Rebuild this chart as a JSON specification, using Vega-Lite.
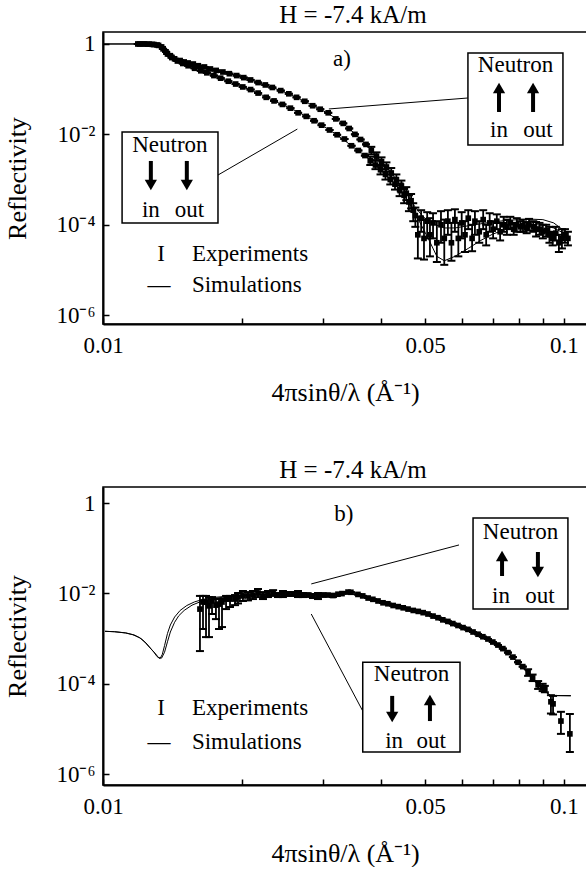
{
  "$schema": "https://vega.github.io/schema/vega-lite/v6.json",
  "padding": {"left": 4, "top": 2, "right": 0, "bottom": 0},
  "spacing": 51,
  "config": {
    "font": "Liberation Serif",
    "view": {"stroke": "black", "strokeWidth": 1.5},
    "axis": {"grid": false, "domainColor": "black", "domainWidth": 2, "tickColor": "black", "tickWidth": 1.5, "tickSize": -6, "labelColor": "black", "labelFont": "Liberation Serif", "labelFontSize": 23, "titleFont": "Liberation Serif", "titleFontSize": 26, "titleFontWeight": "normal", "titleColor": "black"},
    "title": {"font": "Liberation Serif", "fontSize": 25, "fontWeight": "normal", "color": "black"}
  },
  "datasets": {
    "a_exp": [
      {"q":0.0119,"R":1.0,"lo":1.0,"hi":1.0},{"q":0.0122,"R":1.0,"lo":1.0,"hi":1.0},{"q":0.0125,"R":0.99,"lo":0.99,"hi":0.99},{"q":0.0128,"R":0.98,"lo":0.98,"hi":0.98},{"q":0.0131,"R":0.95,"lo":0.95,"hi":0.95},{"q":0.0134,"R":0.86,"lo":0.86,"hi":0.86},{"q":0.0137,"R":0.67,"lo":0.67,"hi":0.67},{"q":0.014,"R":0.55,"lo":0.55,"hi":0.55},{"q":0.0143,"R":0.47,"lo":0.47,"hi":0.47},{"q":0.0147,"R":0.43,"lo":0.43,"hi":0.43},{"q":0.015,"R":0.4,"lo":0.4,"hi":0.4},{"q":0.0153,"R":0.38,"lo":0.38,"hi":0.38},{"q":0.0157,"R":0.36,"lo":0.36,"hi":0.36},{"q":0.0161,"R":0.33,"lo":0.33,"hi":0.33},{"q":0.0166,"R":0.31,"lo":0.31,"hi":0.31},{"q":0.0171,"R":0.28,"lo":0.28,"hi":0.28},{"q":0.0176,"R":0.26,"lo":0.26,"hi":0.26},{"q":0.0182,"R":0.24,"lo":0.24,"hi":0.24},{"q":0.0188,"R":0.22,"lo":0.22,"hi":0.22},{"q":0.0195,"R":0.2,"lo":0.2,"hi":0.2},{"q":0.0202,"R":0.18,"lo":0.18,"hi":0.18},{"q":0.0209,"R":0.16,"lo":0.16,"hi":0.16},{"q":0.0217,"R":0.14,"lo":0.14,"hi":0.14},{"q":0.0225,"R":0.124,"lo":0.124,"hi":0.124},{"q":0.0233,"R":0.109,"lo":0.109,"hi":0.109},{"q":0.0243,"R":0.093,"lo":0.093,"hi":0.093},{"q":0.0253,"R":0.079,"lo":0.079,"hi":0.079},{"q":0.0263,"R":0.066,"lo":0.066,"hi":0.066},{"q":0.0274,"R":0.054,"lo":0.054,"hi":0.054},{"q":0.0285,"R":0.043,"lo":0.043,"hi":0.043},{"q":0.0296,"R":0.036,"lo":0.036,"hi":0.036},{"q":0.0308,"R":0.03,"lo":0.03,"hi":0.03},{"q":0.032,"R":0.022,"lo":0.022,"hi":0.022},{"q":0.0332,"R":0.0175,"lo":0.0175,"hi":0.0175},{"q":0.0342,"R":0.0135,"lo":0.0135,"hi":0.0135},{"q":0.0352,"R":0.01,"lo":0.01,"hi":0.01},{"q":0.0362,"R":0.0077,"lo":0.0077,"hi":0.0077},{"q":0.0372,"R":0.006,"lo":0.006,"hi":0.006},{"q":0.0382,"R":0.0044,"lo":0.0036,"hi":0.0053},{"q":0.0392,"R":0.0033,"lo":0.0027,"hi":0.004},{"q":0.0402,"R":0.0025,"lo":0.002,"hi":0.0031},{"q":0.0412,"R":0.0019,"lo":0.0015,"hi":0.0024},{"q":0.0422,"R":0.0014,"lo":0.0011,"hi":0.0018},{"q":0.0433,"R":0.001,"lo":0.00075,"hi":0.0013},{"q":0.0444,"R":0.00072,"lo":0.00052,"hi":0.00095},{"q":0.0455,"R":0.0005,"lo":0.00035,"hi":0.00068},{"q":0.0466,"R":0.00034,"lo":0.00023,"hi":0.00048},
      {"q":0.0476,"R":1.6e-4,"lo":9e-5,"hi":2.4e-4},{"q":0.049,"R":1.4e-4,"lo":7e-5,"hi":2.1e-4},{"q":0.0505,"R":1.2e-4,"lo":5e-5,"hi":1.9e-4},{"q":0.052,"R":1.1e-4,"lo":5e-5,"hi":1.8e-4},{"q":0.0541,"R":1.0e-4,"lo":4e-5,"hi":2.0e-4},{"q":0.056,"R":1.2e-4,"lo":6e-5,"hi":2.1e-4},{"q":0.058,"R":1.3e-4,"lo":7e-5,"hi":2.2e-4},{"q":0.06,"R":1.1e-4,"lo":5e-5,"hi":1.9e-4},{"q":0.062,"R":1.4e-4,"lo":8e-5,"hi":2.1e-4},{"q":0.0641,"R":1.2e-4,"lo":6e-5,"hi":2.0e-4},{"q":0.0668,"R":1.3e-4,"lo":8e-5,"hi":2.1e-4},{"q":0.069,"R":1.1e-4,"lo":7e-5,"hi":1.8e-4},{"q":0.0715,"R":1.2e-4,"lo":8e-5,"hi":1.7e-4},{"q":0.074,"R":1.0e-4,"lo":7e-5,"hi":1.5e-4},{"q":0.0765,"R":1.1e-4,"lo":8e-5,"hi":1.5e-4},{"q":0.079,"R":1.0e-4,"lo":7e-5,"hi":1.4e-4},{"q":0.0815,"R":9.5e-5,"lo":7e-5,"hi":1.3e-4},{"q":0.084,"R":1.0e-4,"lo":7.5e-5,"hi":1.35e-4},{"q":0.087,"R":8e-5,"lo":5.5e-5,"hi":1.15e-4},{"q":0.09,"R":7e-5,"lo":5e-5,"hi":1.0e-4},{"q":0.093,"R":6e-5,"lo":4e-5,"hi":9e-5},{"q":0.096,"R":6.5e-5,"lo":4.5e-5,"hi":9e-5},{"q":0.099,"R":5e-5,"lo":3e-5,"hi":8e-5},{"q":0.102,"R":5e-5,"lo":3.5e-5,"hi":7e-5},
      {"q":0.012,"R":1.0,"lo":1.0,"hi":1.0},{"q":0.0123,"R":1.0,"lo":1.0,"hi":1.0},{"q":0.0126,"R":0.99,"lo":0.99,"hi":0.99},{"q":0.0129,"R":0.97,"lo":0.97,"hi":0.97},{"q":0.0132,"R":0.93,"lo":0.93,"hi":0.93},{"q":0.0135,"R":0.78,"lo":0.78,"hi":0.78},{"q":0.0138,"R":0.6,"lo":0.6,"hi":0.6},{"q":0.0141,"R":0.5,"lo":0.5,"hi":0.5},{"q":0.0145,"R":0.42,"lo":0.42,"hi":0.42},{"q":0.0149,"R":0.37,"lo":0.37,"hi":0.37},{"q":0.0153,"R":0.33,"lo":0.33,"hi":0.33},{"q":0.0158,"R":0.29,"lo":0.29,"hi":0.29},{"q":0.0163,"R":0.255,"lo":0.255,"hi":0.255},{"q":0.0168,"R":0.23,"lo":0.23,"hi":0.23},{"q":0.0174,"R":0.2,"lo":0.2,"hi":0.2},{"q":0.018,"R":0.175,"lo":0.175,"hi":0.175},{"q":0.0187,"R":0.15,"lo":0.15,"hi":0.15},{"q":0.0194,"R":0.13,"lo":0.13,"hi":0.13},{"q":0.0201,"R":0.112,"lo":0.112,"hi":0.112},{"q":0.0209,"R":0.098,"lo":0.098,"hi":0.098},{"q":0.0217,"R":0.082,"lo":0.082,"hi":0.082},{"q":0.0226,"R":0.066,"lo":0.066,"hi":0.066},{"q":0.0235,"R":0.055,"lo":0.055,"hi":0.055},{"q":0.0245,"R":0.046,"lo":0.046,"hi":0.046},{"q":0.0255,"R":0.038,"lo":0.038,"hi":0.038},{"q":0.0265,"R":0.03,"lo":0.03,"hi":0.03},{"q":0.0276,"R":0.025,"lo":0.025,"hi":0.025},{"q":0.0287,"R":0.02,"lo":0.02,"hi":0.02},{"q":0.0298,"R":0.016,"lo":0.016,"hi":0.016},{"q":0.031,"R":0.0125,"lo":0.0125,"hi":0.0125},{"q":0.0322,"R":0.0098,"lo":0.0098,"hi":0.0098},{"q":0.0334,"R":0.0079,"lo":0.0079,"hi":0.0079},{"q":0.0346,"R":0.0056,"lo":0.0056,"hi":0.0056},{"q":0.0358,"R":0.0044,"lo":0.0044,"hi":0.0044},{"q":0.037,"R":0.0034,"lo":0.0034,"hi":0.0034},{"q":0.038,"R":0.0026,"lo":0.0021,"hi":0.0032},{"q":0.039,"R":0.0021,"lo":0.0017,"hi":0.0026},{"q":0.04,"R":0.00165,"lo":0.0013,"hi":0.0021},{"q":0.041,"R":0.0013,"lo":0.001,"hi":0.0017},{"q":0.042,"R":0.001,"lo":0.00078,"hi":0.0013},{"q":0.043,"R":0.00079,"lo":0.0006,"hi":0.00105},{"q":0.044,"R":0.0006,"lo":0.00043,"hi":0.00082},{"q":0.045,"R":0.00045,"lo":0.0003,"hi":0.00062},{"q":0.0461,"R":0.00032,"lo":0.0002,"hi":0.00045},{"q":0.0471,"R":0.00021,"lo":0.00012,"hi":0.0003},
      {"q":0.0482,"R":6e-5,"lo":1.8e-5,"hi":1.5e-4},{"q":0.0497,"R":5e-5,"lo":1.7e-5,"hi":1.3e-4},{"q":0.0512,"R":6e-5,"lo":2e-5,"hi":1.4e-4},{"q":0.053,"R":4e-5,"lo":1.5e-5,"hi":1.2e-4},{"q":0.055,"R":5e-5,"lo":1.3e-5,"hi":1.3e-4},{"q":0.057,"R":4e-5,"lo":1.6e-5,"hi":1.1e-4},{"q":0.059,"R":5e-5,"lo":2e-5,"hi":1.1e-4},{"q":0.061,"R":6e-5,"lo":2.5e-5,"hi":1.2e-4},{"q":0.0632,"R":5e-5,"lo":2.6e-5,"hi":1.0e-4},{"q":0.0655,"R":7e-5,"lo":4e-5,"hi":1.2e-4},{"q":0.0678,"R":6e-5,"lo":3.5e-5,"hi":1.0e-4},{"q":0.0702,"R":8e-5,"lo":5e-5,"hi":1.2e-4},{"q":0.0727,"R":7e-5,"lo":4.5e-5,"hi":1.1e-4},{"q":0.0752,"R":9e-5,"lo":6e-5,"hi":1.3e-4},{"q":0.0778,"R":8e-5,"lo":6e-5,"hi":1.1e-4},{"q":0.0805,"R":9e-5,"lo":7e-5,"hi":1.2e-4},{"q":0.083,"R":8.5e-5,"lo":6.5e-5,"hi":1.15e-4},{"q":0.0858,"R":9e-5,"lo":7e-5,"hi":1.2e-4},{"q":0.0885,"R":8e-5,"lo":6e-5,"hi":1.1e-4},{"q":0.0915,"R":7.5e-5,"lo":5.5e-5,"hi":1.0e-4},{"q":0.0945,"R":5e-5,"lo":3.5e-5,"hi":7e-5},{"q":0.0975,"R":4e-5,"lo":2.5e-5,"hi":6e-5},{"q":0.1005,"R":6e-5,"lo":4e-5,"hi":8e-5}
    ],
    "a_sim": [
      {"s":"pp","q":0.01,"R":1.0},{"s":"pp","q":0.0125,"R":1.0},{"s":"pp","q":0.0131,"R":0.97},{"s":"pp","q":0.0134,"R":0.88},{"s":"pp","q":0.0137,"R":0.68},{"s":"pp","q":0.014,"R":0.56},{"s":"pp","q":0.0145,"R":0.46},{"s":"pp","q":0.0153,"R":0.39},{"s":"pp","q":0.0165,"R":0.315},{"s":"pp","q":0.018,"R":0.25},{"s":"pp","q":0.0195,"R":0.2},{"s":"pp","q":0.021,"R":0.158},{"s":"pp","q":0.0225,"R":0.124},{"s":"pp","q":0.0243,"R":0.093},{"s":"pp","q":0.0263,"R":0.066},{"s":"pp","q":0.0285,"R":0.044},{"s":"pp","q":0.0308,"R":0.029},{"s":"pp","q":0.0332,"R":0.0175},{"s":"pp","q":0.0352,"R":0.0103},{"s":"pp","q":0.0372,"R":0.006},{"s":"pp","q":0.0392,"R":0.0033},{"s":"pp","q":0.0412,"R":0.0019},{"s":"pp","q":0.0433,"R":0.001},{"s":"pp","q":0.0455,"R":0.0005},{"s":"pp","q":0.0475,"R":0.00025},{"s":"pp","q":0.0495,"R":1.5e-4},{"s":"pp","q":0.052,"R":1.05e-4},{"s":"pp","q":0.055,"R":8.5e-5},{"s":"pp","q":0.058,"R":8.5e-5},{"s":"pp","q":0.062,"R":9.5e-5},{"s":"pp","q":0.066,"R":1.05e-4},{"s":"pp","q":0.07,"R":1.15e-4},{"s":"pp","q":0.075,"R":1.25e-4},{"s":"pp","q":0.08,"R":1.3e-4},{"s":"pp","q":0.085,"R":1.33e-4},{"s":"pp","q":0.09,"R":1.3e-4},{"s":"pp","q":0.095,"R":1.1e-4},{"s":"pp","q":0.099,"R":8e-5},{"s":"pp","q":0.1015,"R":6e-5},{"s":"pp","q":0.103,"R":5e-5},
      {"s":"mm","q":0.01,"R":1.0},{"s":"mm","q":0.0126,"R":1.0},{"s":"mm","q":0.013,"R":0.97},{"s":"mm","q":0.0133,"R":0.87},{"s":"mm","q":0.0136,"R":0.68},{"s":"mm","q":0.0139,"R":0.55},{"s":"mm","q":0.0143,"R":0.45},{"s":"mm","q":0.015,"R":0.37},{"s":"mm","q":0.016,"R":0.29},{"s":"mm","q":0.0172,"R":0.21},{"s":"mm","q":0.0187,"R":0.15},{"s":"mm","q":0.0201,"R":0.112},{"s":"mm","q":0.0217,"R":0.082},{"s":"mm","q":0.0235,"R":0.055},{"s":"mm","q":0.0255,"R":0.038},{"s":"mm","q":0.0276,"R":0.025},{"s":"mm","q":0.0298,"R":0.016},{"s":"mm","q":0.0322,"R":0.0098},{"s":"mm","q":0.0346,"R":0.0056},{"s":"mm","q":0.037,"R":0.0034},{"s":"mm","q":0.039,"R":0.0021},{"s":"mm","q":0.041,"R":0.0013},{"s":"mm","q":0.043,"R":0.0008},{"s":"mm","q":0.045,"R":0.00045},{"s":"mm","q":0.047,"R":0.00022},{"s":"mm","q":0.049,"R":1.0e-4},{"s":"mm","q":0.051,"R":4.5e-5},{"s":"mm","q":0.053,"R":2.0e-5},{"s":"mm","q":0.055,"R":1.6e-5},{"s":"mm","q":0.058,"R":2.0e-5},{"s":"mm","q":0.062,"R":3.0e-5},{"s":"mm","q":0.066,"R":4.5e-5},{"s":"mm","q":0.07,"R":6.2e-5},{"s":"mm","q":0.075,"R":8.0e-5},{"s":"mm","q":0.08,"R":9.5e-5},{"s":"mm","q":0.085,"R":1.02e-4},{"s":"mm","q":0.09,"R":9.8e-5},{"s":"mm","q":0.095,"R":8.5e-5},{"s":"mm","q":0.1,"R":6.5e-5},{"s":"mm","q":0.103,"R":5.3e-5}
    ],
    "a_box": [{"q":0.0619,"q2":0.0995,"R":0.632,"R2":0.0058},{"q":0.011,"q2":0.01776,"R":0.0113,"R2":0.00011}],
    "a_lead": [{"q":0.0309,"R":0.0365,"q2":0.0619,"R2":0.0638},{"q":0.01776,"R":0.00126,"q2":0.0264,"R2":0.0131}],
    "a_arrow": [
      {"q":0.0723,"R":0.0313,"R2":0.096,"Rt":0.106,"dir":"up"},
      {"q":0.0857,"R":0.0313,"R2":0.096,"Rt":0.106,"dir":"up"},
      {"q":0.0127,"R":0.00258,"R2":0.000885,"Rt":0.00076,"dir":"down"},
      {"q":0.0152,"R":0.00258,"R2":0.000885,"Rt":0.00076,"dir":"down"}
    ],
    "a_txt": [
      {"q":0.0785,"R":0.343,"t":"Neutron"},{"q":0.0723,"R":0.0125,"t":"in"},{"q":0.0878,"R":0.0125,"t":"out"},
      {"q":0.01397,"R":0.0058,"t":"Neutron"},{"q":0.0127,"R":0.000212,"t":"in"},{"q":0.0154,"R":0.000212,"t":"out"},
      {"q":0.033,"R":0.466,"t":"a)"},{"q":0.01336,"R":2.26e-5,"t":"I"},{"q":0.01323,"R":4.6e-6,"t":"—"}
    ],
    "a_leg": [{"q":0.01559,"R":2.26e-5,"t":"Experiments"},{"q":0.01559,"R":4.6e-6,"t":"Simulations"}],
    "b_exp": [
      {"q":0.01623,"R":0.0045,"lo":0.00053,"hi":0.0088},{"q":0.01673,"R":0.00645,"lo":0.00108,"hi":0.0088},{"q":0.01724,"R":0.0068,"lo":0.0035,"hi":0.0083},{"q":0.01785,"R":0.0058,"lo":0.00163,"hi":0.0075},{"q":0.01849,"R":0.0075,"lo":0.0045,"hi":0.0088},{"q":0.01934,"R":0.0075,"lo":0.0055,"hi":0.0092},{"q":0.02012,"R":0.0088,"lo":0.0068,"hi":0.0113},{"q":0.02115,"R":0.0092,"lo":0.0075,"hi":0.0113},{"q":0.02224,"R":0.0088,"lo":0.0075,"hi":0.0107},{"q":0.02339,"R":0.0102,"lo":0.0088,"hi":0.0118},{"q":0.02457,"R":0.0097,"lo":0.0083,"hi":0.0113},{"q":0.02584,"R":0.0097,"lo":0.0088,"hi":0.0107},{"q":0.02715,"R":0.0092,"lo":0.0083,"hi":0.0102},{"q":0.02855,"R":0.0088,"lo":0.0079,"hi":0.0097},{"q":0.03,"R":0.0092,"lo":0.0085,"hi":0.01},{"q":0.03154,"R":0.009,"lo":0.0083,"hi":0.0097},{"q":0.033,"R":0.0099,"lo":0.0099,"hi":0.0099},{"q":0.0345,"R":0.0106,"lo":0.0106,"hi":0.0106},{"q":0.0366,"R":0.0088,"lo":0.0088,"hi":0.0088},{"q":0.0385,"R":0.0074,"lo":0.0074,"hi":0.0074},{"q":0.0405,"R":0.0062,"lo":0.0062,"hi":0.0062},{"q":0.0426,"R":0.0054,"lo":0.0054,"hi":0.0054},{"q":0.0448,"R":0.0048,"lo":0.0048,"hi":0.0048},{"q":0.0471,"R":0.0042,"lo":0.0042,"hi":0.0042},{"q":0.0495,"R":0.00375,"lo":0.00375,"hi":0.00375},{"q":0.052,"R":0.00315,"lo":0.00315,"hi":0.00315},{"q":0.0546,"R":0.0026,"lo":0.0026,"hi":0.0026},{"q":0.0574,"R":0.00215,"lo":0.00215,"hi":0.00215},{"q":0.0604,"R":0.00175,"lo":0.00175,"hi":0.00175},{"q":0.0635,"R":0.0014,"lo":0.0014,"hi":0.0014},{"q":0.0667,"R":0.0011,"lo":0.0011,"hi":0.0011},{"q":0.0701,"R":0.00084,"lo":0.00084,"hi":0.00084},{"q":0.0737,"R":0.0006,"lo":0.0006,"hi":0.0006},{"q":0.0775,"R":0.00039,"lo":0.00039,"hi":0.00039},{"q":0.0814,"R":0.00024,"lo":0.00024,"hi":0.00024},{"q":0.0855,"R":0.000135,"lo":0.000115,"hi":0.00016},{"q":0.0899,"R":8.3e-5,"lo":6.9e-5,"hi":1.0e-4},{"q":0.0947,"R":3.6e-5,"lo":2.1e-5,"hi":5.4e-5},{"q":0.103,"R":7.8e-6,"lo":3.1e-6,"hi":2.15e-5},
      {"q":0.01648,"R":0.00645,"lo":0.00163,"hi":0.0088},{"q":0.01698,"R":0.0053,"lo":0.00108,"hi":0.0083},{"q":0.01758,"R":0.0055,"lo":0.0027,"hi":0.0075},{"q":0.01812,"R":0.00645,"lo":0.0018,"hi":0.0075},{"q":0.01886,"R":0.0075,"lo":0.005,"hi":0.0088},{"q":0.01963,"R":0.0083,"lo":0.006,"hi":0.0102},{"q":0.02063,"R":0.0088,"lo":0.007,"hi":0.0107},{"q":0.02169,"R":0.0102,"lo":0.0083,"hi":0.0125},{"q":0.0228,"R":0.0097,"lo":0.0083,"hi":0.0113},{"q":0.02397,"R":0.0092,"lo":0.0083,"hi":0.0102},{"q":0.02519,"R":0.0097,"lo":0.0088,"hi":0.0107},{"q":0.02649,"R":0.0097,"lo":0.0083,"hi":0.0113},{"q":0.02784,"R":0.0092,"lo":0.0085,"hi":0.01},{"q":0.02927,"R":0.0086,"lo":0.0075,"hi":0.0102},{"q":0.03076,"R":0.0092,"lo":0.0092,"hi":0.0092},{"q":0.03234,"R":0.0096,"lo":0.0096,"hi":0.0096},{"q":0.034,"R":0.0107,"lo":0.0107,"hi":0.0107},{"q":0.03573,"R":0.0095,"lo":0.0095,"hi":0.0095},{"q":0.0376,"R":0.0079,"lo":0.0079,"hi":0.0079},{"q":0.0395,"R":0.0068,"lo":0.0068,"hi":0.0068},{"q":0.0415,"R":0.0059,"lo":0.0059,"hi":0.0059},{"q":0.0437,"R":0.0051,"lo":0.0051,"hi":0.0051},{"q":0.0459,"R":0.0045,"lo":0.0045,"hi":0.0045},{"q":0.0483,"R":0.004,"lo":0.004,"hi":0.004},{"q":0.0507,"R":0.0035,"lo":0.0035,"hi":0.0035},{"q":0.0533,"R":0.0029,"lo":0.0029,"hi":0.0029},{"q":0.056,"R":0.0024,"lo":0.0024,"hi":0.0024},{"q":0.0589,"R":0.00195,"lo":0.00195,"hi":0.00195},{"q":0.0619,"R":0.0016,"lo":0.0016,"hi":0.0016},{"q":0.0651,"R":0.00125,"lo":0.00125,"hi":0.00125},{"q":0.0684,"R":0.00098,"lo":0.00098,"hi":0.00098},{"q":0.0719,"R":0.00072,"lo":0.00072,"hi":0.00072},{"q":0.0756,"R":0.00049,"lo":0.00049,"hi":0.00049},{"q":0.0795,"R":0.0003,"lo":0.0003,"hi":0.0003},{"q":0.0836,"R":0.000175,"lo":0.00015,"hi":0.00021},{"q":0.0879,"R":9.5e-5,"lo":7.7e-5,"hi":1.15e-4},{"q":0.0909,"R":7.7e-5,"lo":6.5e-5,"hi":9.0e-5},{"q":0.0937,"R":4.0e-5,"lo":2.2e-5,"hi":5.6e-5},{"q":0.0985,"R":1.5e-5,"lo":7.8e-6,"hi":2.4e-5}
    ],
    "b_sim": [
      {"s":"1","q":0.0101,"R":0.00145},{"s":"1","q":0.0106,"R":0.00142},{"s":"1","q":0.0112,"R":0.00133},{"s":"1","q":0.0116,"R":0.00122},{"s":"1","q":0.012,"R":0.00105},{"s":"1","q":0.0123,"R":0.00085},{"s":"1","q":0.0126,"R":0.00065},{"s":"1","q":0.0129,"R":0.0005},{"s":"1","q":0.0131,"R":0.0004},{"s":"1","q":0.0133,"R":0.00036},{"s":"1","q":0.01345,"R":0.00045},{"s":"1","q":0.0136,"R":0.0007},{"s":"1","q":0.0138,"R":0.0013},{"s":"1","q":0.014,"R":0.002},{"s":"1","q":0.0143,"R":0.003},{"s":"1","q":0.0147,"R":0.0042},{"s":"1","q":0.0152,"R":0.0054},{"s":"1","q":0.0158,"R":0.0065},{"s":"1","q":0.0165,"R":0.0074},{"s":"1","q":0.0175,"R":0.0082},{"s":"1","q":0.019,"R":0.0088},{"s":"1","q":0.021,"R":0.0093},{"s":"1","q":0.024,"R":0.0096},{"s":"1","q":0.027,"R":0.0095},{"s":"1","q":0.03,"R":0.0093},{"s":"1","q":0.034,"R":0.0104},{"s":"1","q":0.0376,"R":0.0079},{"s":"1","q":0.0415,"R":0.0059},{"s":"1","q":0.0459,"R":0.0045},{"s":"1","q":0.0507,"R":0.0035},{"s":"1","q":0.056,"R":0.0024},{"s":"1","q":0.0619,"R":0.0016},{"s":"1","q":0.0684,"R":0.00098},{"s":"1","q":0.0756,"R":0.00049},{"s":"1","q":0.0836,"R":0.000175},{"s":"1","q":0.0879,"R":9.5e-5},{"s":"1","q":0.0909,"R":7.0e-5},{"s":"1","q":0.0935,"R":5.5e-5},{"s":"1","q":0.1035,"R":5.4e-5},
      {"s":"2","q":0.0101,"R":0.00145},{"s":"2","q":0.0106,"R":0.00142},{"s":"2","q":0.0112,"R":0.00134},{"s":"2","q":0.0117,"R":0.0012},{"s":"2","q":0.0121,"R":0.001},{"s":"2","q":0.0124,"R":0.0008},{"s":"2","q":0.0127,"R":0.0006},{"s":"2","q":0.013,"R":0.00046},{"s":"2","q":0.0132,"R":0.00038},{"s":"2","q":0.0134,"R":0.00037},{"s":"2","q":0.0136,"R":0.0005},{"s":"2","q":0.0138,"R":0.00085},{"s":"2","q":0.014,"R":0.0014},{"s":"2","q":0.0143,"R":0.0023},{"s":"2","q":0.0146,"R":0.0032},{"s":"2","q":0.015,"R":0.0042},{"s":"2","q":0.0156,"R":0.0055},{"s":"2","q":0.0163,"R":0.0066},{"s":"2","q":0.0172,"R":0.0076},{"s":"2","q":0.0185,"R":0.0084},{"s":"2","q":0.02,"R":0.0089},{"s":"2","q":0.023,"R":0.0094},{"s":"2","q":0.027,"R":0.0096},{"s":"2","q":0.03,"R":0.0092},{"s":"2","q":0.034,"R":0.0103},{"s":"2","q":0.0376,"R":0.0078},{"s":"2","q":0.0415,"R":0.0058},{"s":"2","q":0.0459,"R":0.0044},{"s":"2","q":0.0507,"R":0.0034},{"s":"2","q":0.056,"R":0.00235},{"s":"2","q":0.0619,"R":0.00155},{"s":"2","q":0.0684,"R":0.00095},{"s":"2","q":0.0756,"R":0.00048},{"s":"2","q":0.0836,"R":0.00017},{"s":"2","q":0.0879,"R":9.3e-5},{"s":"2","q":0.0909,"R":6.8e-5},{"s":"2","q":0.0935,"R":5.5e-5},{"s":"2","q":0.1035,"R":5.5e-5}
    ],
    "b_box": [{"q":0.0635,"q2":0.102,"R":0.466,"R2":0.0045},{"q":0.0366,"q2":0.0595,"R":0.0003,"R2":3.1e-6}],
    "b_lead": [{"q":0.0283,"R":0.0162,"q2":0.0592,"R2":0.118},{"q":0.0283,"R":0.0035,"q2":0.0366,"R2":2.5e-5}],
    "b_arrow": [
      {"q":0.0734,"R":0.0243,"R2":0.0607,"Rt":0.0672,"dir":"up"},
      {"q":0.0878,"R":0.0824,"R2":0.033,"Rt":0.0297,"dir":"down"},
      {"q":0.0424,"R":5.4e-5,"R2":2.04e-5,"Rt":1.84e-5,"dir":"down"},
      {"q":0.0512,"R":1.5e-5,"R2":3.96e-5,"Rt":4.38e-5,"dir":"up"}
    ],
    "b_txt": [
      {"q":0.0805,"R":0.228,"t":"Neutron"},{"q":0.073,"R":0.0088,"t":"in"},{"q":0.0887,"R":0.0088,"t":"out"},
      {"q":0.0467,"R":0.000165,"t":"Neutron"},{"q":0.0428,"R":5.4e-6,"t":"in"},{"q":0.0515,"R":5.4e-6,"t":"out"},
      {"q":0.0333,"R":0.571,"t":"b)"},{"q":0.01336,"R":2.92e-5,"t":"I"},{"q":0.01323,"R":5.15e-6,"t":"—"}
    ],
    "b_leg": [{"q":0.01559,"R":2.92e-5,"t":"Experiments"},{"q":0.01559,"R":5.15e-6,"t":"Simulations"}]
  },
  "vconcat": [
    {
      "width": 484, "height": 292,
      "title": {"text": "H = -7.4 kA/m", "dx": 8, "offset": 4},
      "encoding": {
        "x": {"field": "q", "type": "quantitative", "scale": {"type": "log", "domain": [0.01, 0.1122]}, "title": "4πsinθ/λ (Å⁻¹)",
              "axis": {"values": [0.01,0.02,0.03,0.04,0.05,0.06,0.07,0.08,0.09,0.1], "format": "~g", "labelExpr": "datum.value == 0.01 || datum.value == 0.05 || datum.value == 0.1 ? datum.label : ''", "labelOverlap": false, "labelFlush": false, "labelPadding": 16, "titlePadding": 22}},
        "y": {"field": "R", "type": "quantitative", "scale": {"type": "log", "domain": [6.38e-7, 1.84]}, "title": "Reflectivity",
              "axis": {"values": [1e-6, 1e-4, 0.01, 1], "labelExpr": "datum.value > 0.5 ? '1' : datum.value > 0.001 ? '10⁻²' : datum.value > 1e-5 ? '10⁻⁴' : '10⁻⁶'", "labelPadding": 14, "titlePadding": 25}}
      },
      "layer": [
        {"data": {"name": "a_sim"}, "mark": {"type": "line", "color": "black", "strokeWidth": 1}, "encoding": {"detail": {"field": "s"}}},
        {"data": {"name": "a_exp"}, "mark": {"type": "rule", "color": "black", "strokeWidth": 1.8}, "encoding": {"y": {"field": "lo", "type": "quantitative", "scale": {"type": "log", "domain": [6.38e-7, 1.84]}, "title": "Reflectivity"}, "y2": {"field": "hi"}}},
        {"data": {"name": "a_exp"}, "mark": {"type": "tick", "orient": "horizontal", "color": "black", "size": 8, "thickness": 2, "opacity": 1}, "encoding": {"y": {"field": "lo", "type": "quantitative", "scale": {"type": "log", "domain": [6.38e-7, 1.84]}, "title": "Reflectivity"}}},
        {"data": {"name": "a_exp"}, "mark": {"type": "tick", "orient": "horizontal", "color": "black", "size": 8, "thickness": 2, "opacity": 1}, "encoding": {"y": {"field": "hi", "type": "quantitative", "scale": {"type": "log", "domain": [6.38e-7, 1.84]}, "title": "Reflectivity"}}},
        {"data": {"name": "a_exp"}, "mark": {"type": "square", "color": "black", "size": 32, "opacity": 1}},
        {"data": {"name": "a_lead"}, "mark": {"type": "rule", "color": "black", "strokeWidth": 1}, "encoding": {"x2": {"field": "q2"}, "y2": {"field": "R2"}}},
        {"data": {"name": "a_box"}, "mark": {"type": "rect", "fill": "white", "stroke": "black", "strokeWidth": 1.5}, "encoding": {"x2": {"field": "q2"}, "y2": {"field": "R2"}}},
        {"data": {"name": "a_arrow"}, "mark": {"type": "rule", "color": "black", "strokeWidth": 4}, "encoding": {"y2": {"field": "R2"}}},
        {"data": {"name": "a_arrow"}, "mark": {"type": "point", "filled": true, "color": "black", "size": 150, "opacity": 1}, "encoding": {"y": {"field": "Rt", "type": "quantitative", "scale": {"type": "log", "domain": [6.38e-7, 1.84]}, "title": "Reflectivity"}, "shape": {"field": "dir", "type": "nominal", "scale": {"domain": ["up", "down"], "range": ["triangle-up", "triangle-down"]}, "legend": null}}},
        {"data": {"name": "a_txt"}, "mark": {"type": "text", "font": "Liberation Serif", "fontSize": 23, "color": "black", "align": "center", "baseline": "middle"}, "encoding": {"text": {"field": "t"}}},
        {"data": {"name": "a_leg"}, "mark": {"type": "text", "font": "Liberation Serif", "fontSize": 23, "color": "black", "align": "left", "baseline": "middle"}, "encoding": {"text": {"field": "t"}}}
      ]
    },
    {
      "width": 484, "height": 298,
      "title": {"text": "H = -7.4 kA/m", "dx": 8, "offset": 4},
      "encoding": {
        "x": {"field": "q", "type": "quantitative", "scale": {"type": "log", "domain": [0.01, 0.1122]}, "title": "4πsinθ/λ (Å⁻¹)",
              "axis": {"values": [0.01,0.02,0.03,0.04,0.05,0.06,0.07,0.08,0.09,0.1], "format": "~g", "labelExpr": "datum.value == 0.01 || datum.value == 0.05 || datum.value == 0.1 ? datum.label : ''", "labelOverlap": false, "labelFlush": false, "labelPadding": 16, "titlePadding": 22}},
        "y": {"field": "R", "type": "quantitative", "scale": {"type": "log", "domain": [5.77e-7, 2.26]}, "title": "Reflectivity",
              "axis": {"values": [1e-6, 1e-4, 0.01, 1], "labelExpr": "datum.value > 0.5 ? '1' : datum.value > 0.001 ? '10⁻²' : datum.value > 1e-5 ? '10⁻⁴' : '10⁻⁶'", "labelPadding": 14, "titlePadding": 25}}
      },
      "layer": [
        {"data": {"name": "b_sim"}, "mark": {"type": "line", "color": "black", "strokeWidth": 1}, "encoding": {"detail": {"field": "s"}}},
        {"data": {"name": "b_exp"}, "mark": {"type": "rule", "color": "black", "strokeWidth": 1.8}, "encoding": {"y": {"field": "lo", "type": "quantitative", "scale": {"type": "log", "domain": [5.77e-7, 2.26]}, "title": "Reflectivity"}, "y2": {"field": "hi"}}},
        {"data": {"name": "b_exp"}, "mark": {"type": "tick", "orient": "horizontal", "color": "black", "size": 8, "thickness": 2, "opacity": 1}, "encoding": {"y": {"field": "lo", "type": "quantitative", "scale": {"type": "log", "domain": [5.77e-7, 2.26]}, "title": "Reflectivity"}}},
        {"data": {"name": "b_exp"}, "mark": {"type": "tick", "orient": "horizontal", "color": "black", "size": 8, "thickness": 2, "opacity": 1}, "encoding": {"y": {"field": "hi", "type": "quantitative", "scale": {"type": "log", "domain": [5.77e-7, 2.26]}, "title": "Reflectivity"}}},
        {"data": {"name": "b_exp"}, "mark": {"type": "square", "color": "black", "size": 32, "opacity": 1}},
        {"data": {"name": "b_lead"}, "mark": {"type": "rule", "color": "black", "strokeWidth": 1}, "encoding": {"x2": {"field": "q2"}, "y2": {"field": "R2"}}},
        {"data": {"name": "b_box"}, "mark": {"type": "rect", "fill": "white", "stroke": "black", "strokeWidth": 1.5}, "encoding": {"x2": {"field": "q2"}, "y2": {"field": "R2"}}},
        {"data": {"name": "b_arrow"}, "mark": {"type": "rule", "color": "black", "strokeWidth": 4}, "encoding": {"y2": {"field": "R2"}}},
        {"data": {"name": "b_arrow"}, "mark": {"type": "point", "filled": true, "color": "black", "size": 150, "opacity": 1}, "encoding": {"y": {"field": "Rt", "type": "quantitative", "scale": {"type": "log", "domain": [5.77e-7, 2.26]}, "title": "Reflectivity"}, "shape": {"field": "dir", "type": "nominal", "scale": {"domain": ["up", "down"], "range": ["triangle-up", "triangle-down"]}, "legend": null}}},
        {"data": {"name": "b_txt"}, "mark": {"type": "text", "font": "Liberation Serif", "fontSize": 23, "color": "black", "align": "center", "baseline": "middle"}, "encoding": {"text": {"field": "t"}}},
        {"data": {"name": "b_leg"}, "mark": {"type": "text", "font": "Liberation Serif", "fontSize": 23, "color": "black", "align": "left", "baseline": "middle"}, "encoding": {"text": {"field": "t"}}}
      ]
    }
  ]
}
